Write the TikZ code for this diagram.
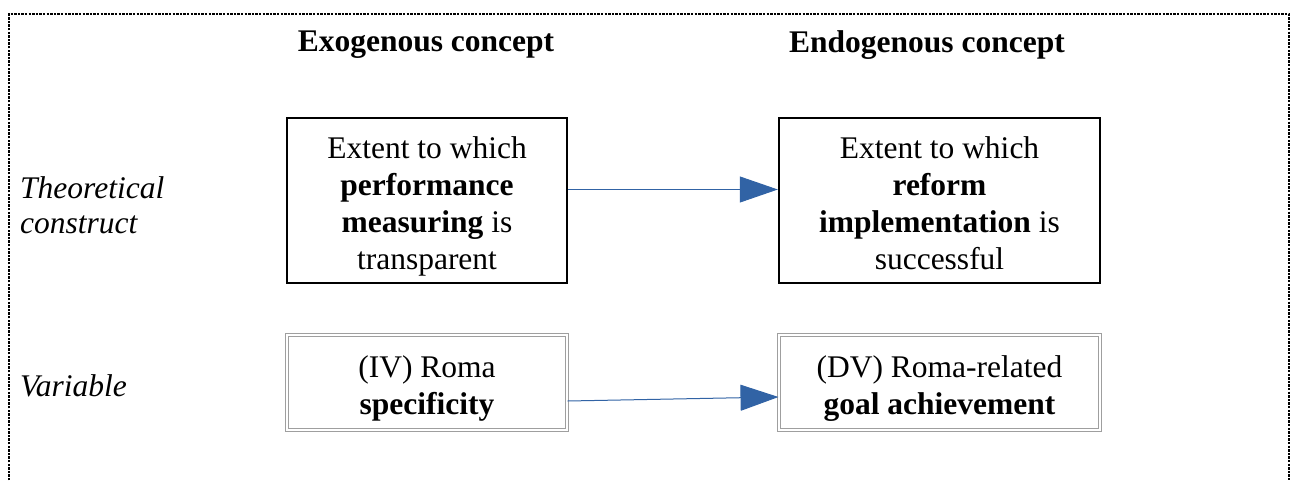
\documentclass[tikz,border=0pt]{standalone}
\usepackage{fontspec}
\setmainfont{Liberation Serif}
\usetikzlibrary{arrows.meta}
\definecolor{arrowblue}{HTML}{3163A5}
\newcommand{\boxlines}[1]{\raisebox{-6.5pt}[\height][\depth]{\begin{tabular}{@{}c@{}}#1\end{tabular}}}
\tikzset{
  txt/.style={font=\fontsize{31.5}{37}\selectfont, align=center},
  construct/.style={txt, draw=black, line width=2.4pt, minimum height=165pt, inner sep=0pt},
  varbox/.style={txt, draw=gray!75, double=white, double distance=2pt, line width=1pt, minimum height=95pt, inner sep=0pt},
  leftw/.style={minimum width=280pt},
  rightw/.style={minimum width=321pt},
  rowlabel/.style={font=\fontsize{31.5}{35}\selectfont\itshape, align=left, anchor=west, inner sep=0pt},
  heading/.style={font=\fontsize{31.5}{37}\selectfont\bfseries, inner sep=0pt},
  conn/.style={draw=arrowblue, line width=1pt, -{Triangle[length=38pt,width=26pt]}, arrowblue},
  frame/.style={draw=black, line width=2.4pt, dash pattern=on 2.4pt off 1.2pt}
}
\begin{document}
\begin{tikzpicture}[x=1pt,y=-1pt]
\useasboundingbox (0,0) rectangle (1295,480);
\draw[frame] (9,484) -- (9,14) -- (1289,14) -- (1289,484);

\node[heading] (h1) at (426,45) {Exogenous concept};
\node[heading] (h2) at (927,45) {Endogenous concept};

\node[rowlabel] (l1) at (20,205) {Theoretical\\construct};
\node[rowlabel] (l2) at (20,386) {Variable};

\node[construct, leftw] (b1) at (427,200.5) {\boxlines{Extent to which\\\textbf{performance}\\\textbf{measuring} is\\transparent}};
\node[construct, rightw] (b2) at (939.5,200.5) {\boxlines{Extent to which\\\textbf{reform}\\\textbf{implementation} is\\successful}};

\node[varbox, leftw] (b3) at (427,382) {\boxlines{(IV) Roma\\\textbf{specificity}}};
\node[varbox, rightw] (b4) at (939.5,382) {\boxlines{(DV) Roma-related\\\textbf{goal achievement}}};

\draw[conn] ([yshift=11pt]b1.east) -- ([yshift=11pt]b2.west);
\draw[conn] ([yshift=-19pt]b3.east) -- ([yshift=-15pt]b4.west);
\end{tikzpicture}
\end{document}
